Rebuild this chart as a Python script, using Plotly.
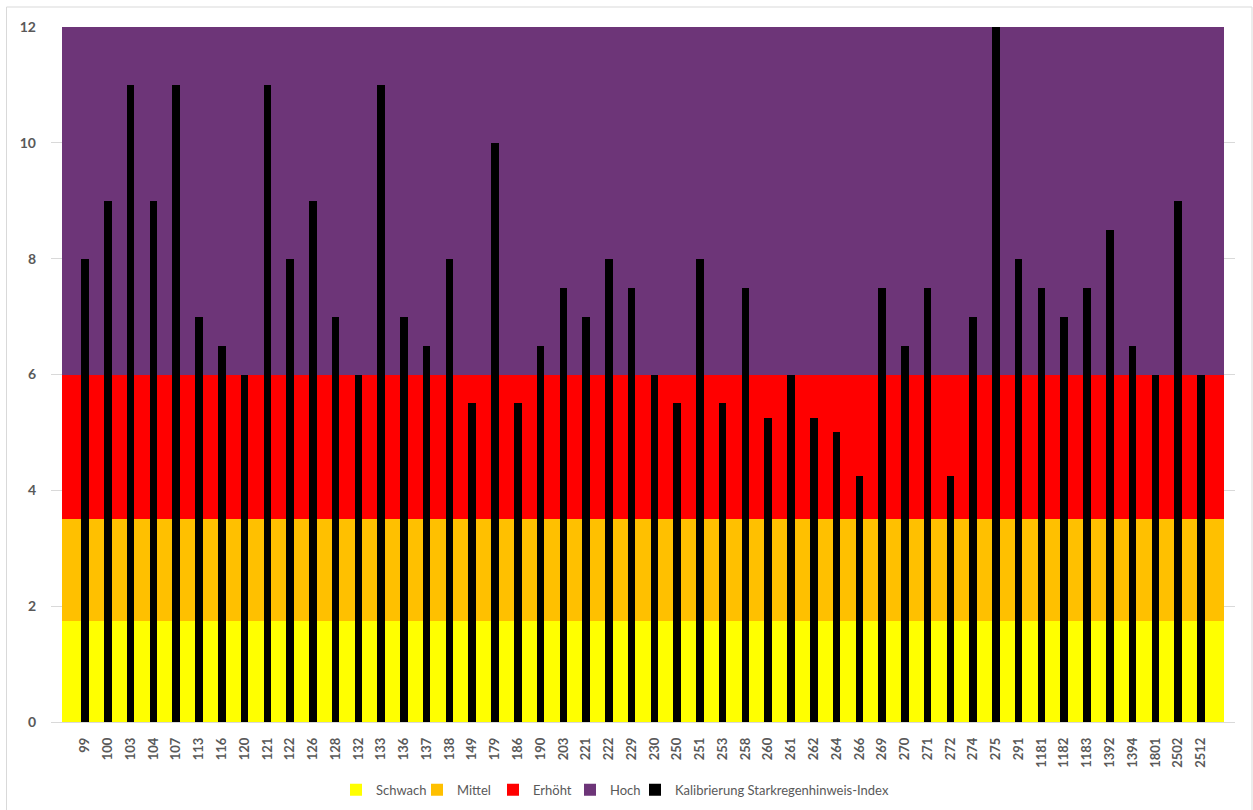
import plotly.graph_objects as go

categories = ["99", "100", "103", "104", "107", "113", "116", "120", "121", "122",
              "126", "128", "132", "133", "136", "137", "138", "149", "179", "186",
              "190", "203", "221", "222", "229", "230", "250", "251", "253", "258",
              "260", "261", "262", "264", "266", "269", "270", "271", "272", "274",
              "275", "291", "1181", "1182", "1183", "1392", "1394", "1801", "2502", "2512"]

index_values = [8, 9, 11, 9, 11, 7, 6.5, 6, 11, 8,
                9, 7, 6, 11, 7, 6.5, 8, 5.5, 10, 5.5,
                6.5, 7.5, 7, 8, 7.5, 6, 5.5, 8, 5.5, 7.5,
                5.25, 6, 5.25, 5, 4.25, 7.5, 6.5, 7.5, 4.25, 7,
                12, 8, 7.5, 7, 7.5, 8.5, 6.5, 6, 9, 6]

band_names = ["Schwach", "Mittel", "Erhöht", "Hoch"]
band_heights = [1.75, 1.75, 2.5, 6.0]   # stacked: 0-1.75, 1.75-3.5, 3.5-6, 6-12
band_colors = ["#FFFF00", "#FFC000", "#FF0000", "#6D3578"]

series_name = "Kalibrierung Starkregenhinweis-Index"

# layout: left pixel of each legend entry's text (within the 1253 px page)
legend_text_px = [376, 457, 533, 610, 675]

n = len(categories)
positions = list(range(n))
legend_ids = ["legend", "legend2", "legend3", "legend4", "legend5"]

fig = go.Figure()

for i, (name, h, col) in enumerate(zip(band_names, band_heights, band_colors)):
    fig.add_trace(go.Bar(
        x=positions, y=[h] * n, name=name, marker=dict(color=col, line=dict(width=0)),
        width=1.0, xaxis="x", yaxis="y", hoverinfo="skip", legend=legend_ids[i],
    ))

fig.add_trace(go.Bar(
    x=categories, y=index_values, name=series_name,
    marker=dict(color="#000000", line=dict(width=0)),
    width=0.33, xaxis="x2", yaxis="y", legend=legend_ids[4],
))

font_fam = "Lato, Open Sans, sans-serif"

plot_left, plot_w = 51, 1184

legend_layout = {}
for lid, tx in zip(legend_ids, legend_text_px):
    legend_layout[lid] = dict(
        orientation="h", x=(tx - 40 - plot_left) / plot_w, xanchor="left",
        yref="container", y=0.025, yanchor="middle",
        font=dict(family=font_fam, size=13, color="#595959"),
        itemwidth=30, bgcolor="rgba(0,0,0,0)", borderwidth=0,
    )

fig.update_layout(
    width=1253, height=810,
    margin=dict(l=51, r=18, t=27, b=88, autoexpand=False),
    paper_bgcolor="white", plot_bgcolor="white",
    barmode="stack", bargap=0,
    showlegend=True,
    xaxis=dict(range=[-0.973, 49.97], showticklabels=False, showgrid=False,
               zeroline=False, showline=True, linecolor="#d9d9d9", linewidth=1,
               fixedrange=True, automargin=False),
    xaxis2=dict(type="category", overlaying="x", side="bottom",
                range=[-1.5, 50.5], tickangle=-90, showgrid=False, zeroline=False,
                showline=False, ticks="", ticklabelstandoff=12, automargin=False,
                tickfont=dict(family=font_fam, size=13, color="#595959", weight="bold")),
    yaxis=dict(range=[0, 12], dtick=2, showgrid=True, gridcolor="#d9d9d9",
               gridwidth=1, zeroline=False, showline=False, ticks="",
               ticklabelstandoff=14, automargin=False,
               tickfont=dict(family=font_fam, size=14, color="#595959", weight="bold")),
    **legend_layout,
)

fig.add_shape(type="rect", xref="paper", yref="paper",
              x0=(6.5 - 51) / 1184, x1=(1252 - 51) / 1184,
              y0=(722 - 815) / 695, y1=(722 - 7) / 695,
              line=dict(color="#d9d9d9", width=1), fillcolor="rgba(0,0,0,0)",
              layer="below")

fig.write_html("out.html", config={"displayModeBar": False},
               post_script="document.body.style.margin='0';")
